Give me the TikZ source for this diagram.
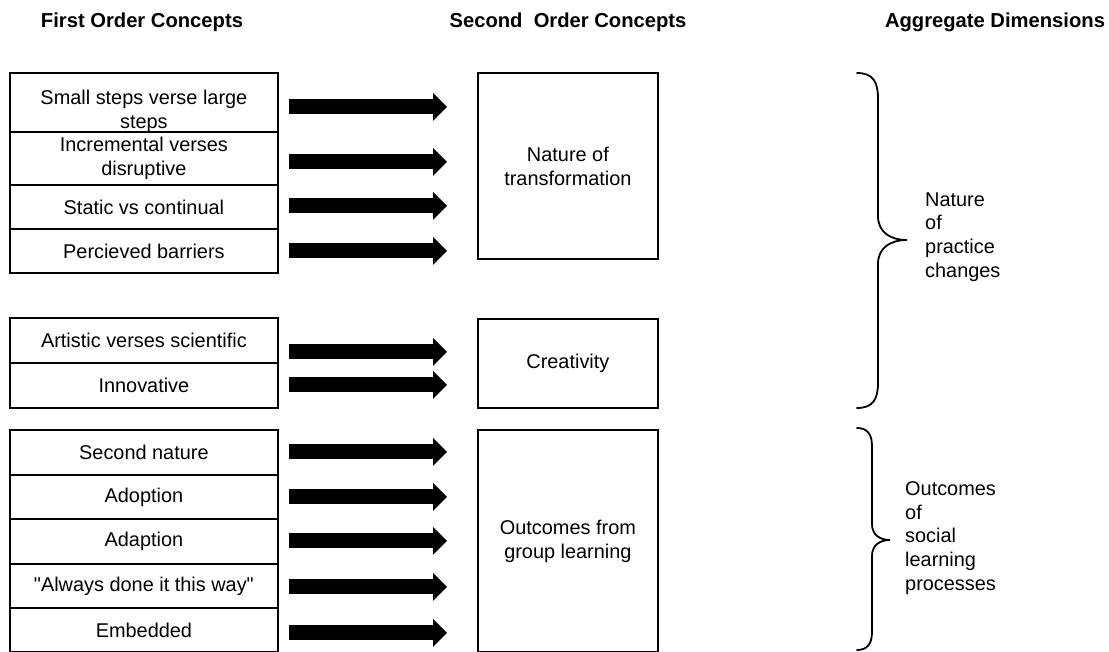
\documentclass[tikz,border=0pt]{standalone}
\usepackage{fontspec}
\setmainfont{Liberation Sans}[Ligatures=TeXOff]
\usetikzlibrary{arrows.meta,calc}
\newcommand\bodyfnt{\fontsize{19.9}{24}\selectfont}
\newcommand\headfnt{\fontsize{20.2}{24}\selectfont\bfseries}
\newcommand\aggfnt{\fontsize{19.9}{23.6}\selectfont}
\begin{document}
\begin{tikzpicture}[x=1pt,y=-1pt,
  every node/.style={text=black},
  header/.style={font=\headfnt, inner sep=0pt},
  rowbox/.style={draw, line width=1.8pt, minimum width=268pt, inner sep=0pt,
    align=center, anchor=north west, font=\bodyfnt},
  midbox/.style={draw, line width=1.8pt, minimum width=180pt, inner sep=0pt,
    align=center, anchor=north west, font=\bodyfnt},
  bigarrow/.style={line width=15pt, -{Triangle[length=14pt,width=27pt]}},
  bracepath/.style={line width=1.8pt, line cap=round},
  aggtext/.style={anchor=west, align=left, inner sep=0pt, font=\aggfnt}]
\useasboundingbox (0,0) rectangle (1109,652);

% headers
\node[header] (h1) at (142,22) {First Order Concepts};
\node[header] (h2) at (568,22) {Second~ Order Concepts};
\node[header] (h3) at (995,22) {Aggregate Dimensions};

% first order concepts, group 1
\node[rowbox, minimum height=59pt,
  label={[name=r1t, font=\bodyfnt, align=center, yshift=-8.5pt]center:Small steps verse large\\steps}]
  (r1) at (9,72) {};
\node[rowbox, minimum height=53pt] (r2) at (9,131) {Incremental verses\\disruptive};
\node[rowbox, minimum height=44pt] (r3) at (9,184) {Static vs continual};
\node[rowbox, minimum height=44pt] (r4) at (9,228) {Percieved barriers};

% group 2
\node[rowbox, minimum height=45pt] (r5) at (9,317) {Artistic verses scientific};
\node[rowbox, minimum height=45pt] (r6) at (9,362) {Innovative};

% group 3
\node[rowbox, minimum height=45pt] (r7) at (9,429) {Second nature};
\node[rowbox, minimum height=44pt] (r8) at (9,474) {Adoption};
\node[rowbox, minimum height=45pt] (r9) at (9,518) {Adaption};
\node[rowbox, minimum height=44pt] (r10) at (9,563) {"Always done it this way"};
\node[rowbox, minimum height=44pt] (r11) at (9,607) {Embedded};

% second order concepts
\node[midbox, minimum height=186pt] (nt) at (477,72) {Nature of\\transformation};
\node[midbox, minimum height=89pt] (cr) at (477,318) {Creativity};
\node[midbox, minimum height=222pt] (og) at (477,429) {Outcomes from\\group learning};

% arrows
\foreach \r/\t/\dy in {r1/nt/4.5, r2/nt/3.5, r3/nt/-1, r4/nt/0,
                       r5/cr/11.5, r6/cr/-0.5,
                       r7/og/-0.5, r8/og/0, r9/og/-0.5, r10/og/1, r11/og/3}
  \draw[bigarrow] ($(\r.east)+(10,\dy)$) -- ($(\r.east -| \t.west)+(-30,\dy)$);

% braces
\coordinate (tip1) at (907,240);
\coordinate (tip2) at (890,540);
\draw[bracepath] (857,73) .. controls (873,73) and (878,82) .. (878,98)
  -- (878,216) .. controls (878,232) and (890,240) .. (tip1)
  .. controls (890,240) and (878,248) .. (878,264)
  -- (878,383) .. controls (878,399) and (873,408) .. (857,408);
\draw[bracepath] (857,428) .. controls (867,428) and (872,434) .. (872,446)
  -- (872,524) .. controls (872,535) and (880,540) .. (tip2)
  .. controls (880,540) and (872,545) .. (872,556)
  -- (872,632) .. controls (872,644) and (867,650) .. (857,650);

\node[aggtext] (ag1) at ($(tip1)+(18,-3)$) {Nature\\of\\practice\\changes};
\node[aggtext] (ag2) at ($(tip2)+(15,-2)$) {Outcomes\\of\\social\\learning\\processes};
\end{tikzpicture}
\end{document}
